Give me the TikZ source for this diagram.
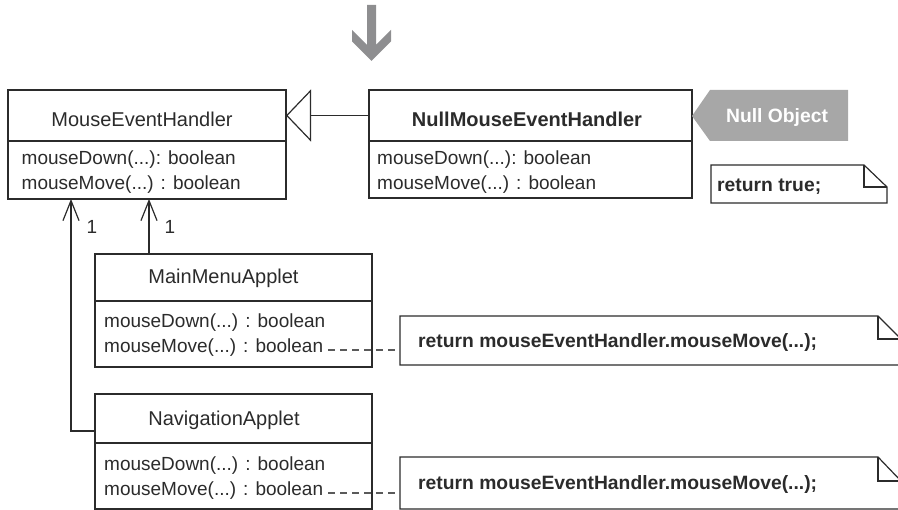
\documentclass[tikz,border=0pt]{standalone}
\usepackage{fontspec}
\setmainfont{Liberation Sans}
\usetikzlibrary{arrows.meta}
\definecolor{ln}{HTML}{2B2B2B}
\definecolor{arrowgray}{HTML}{8E8E90}
\definecolor{taggray}{HTML}{A7A7A7}
\definecolor{dashgray}{HTML}{5A5A5A}
\begin{document}
\begin{tikzpicture}[x=1pt,y=-1pt,
  box/.style={draw=ln, line width=1.2pt, inner sep=0pt, outer sep=0pt},
  ttl/.style={font=\fontsize{20}{24}\selectfont, inner sep=0pt, anchor=base, text=ln},
  bttl/.style={font=\fontsize{20}{24}\selectfont\bfseries, inner sep=0pt, anchor=base, text=ln},
  mth/.style={font=\fontsize{19}{23}\selectfont, inner sep=0pt, anchor=base west, text=ln},
  notetxt/.style={font=\fontsize{19.3}{23}\selectfont\bfseries, inner sep=0pt, anchor=base west, text=ln},
  lbl/.style={font=\fontsize{19}{23}\selectfont, inner sep=0pt, anchor=base, text=ln},
  tagtxt/.style={font=\fontsize{19.3}{23}\selectfont\bfseries, inner sep=0pt, anchor=base, text=white},
  noteframe/.style={inner sep=0pt, outer sep=0pt},
  noteline/.style={draw=ln, line width=1.2pt, line join=miter},
  assoc/.style={draw=ln, line width=1.2pt, -{Straight Barb[length=20pt,width=16pt,line width=1.2pt]}},
  gen/.style={draw=ln, line width=1.2pt, -{Triangle[open,length=25pt,width=52pt,line width=1.2pt]}},
  dashline/.style={draw=dashgray, line width=1.4pt, dash pattern=on 7pt off 5pt}]
\useasboundingbox (0,0) rectangle (898,510);
\clip (0,0) rectangle (898,510);

% down arrow
\fill[arrowgray] (367,5)--(376,5)--(376,45)--(391,30)--(391,41.5)--(371.5,61)--(352,41.5)--(352,30)--(367,45)--cycle;

% MouseEventHandler
\node[box, minimum width=278pt, minimum height=51pt] (mehT) at (147,115.5) {};
\node[box, minimum width=278pt, minimum height=58pt] (mehM) at (147,170) {};
\node[ttl] (mehTitle) at (142,126.5) {MouseEventHandler};
\node[mth] (mehM1) at (21.5,165) {mouseDown(...): boolean};
\node[mth] (mehM2) at (21.5,190) {mouseMove(...) : boolean};

% NullMouseEventHandler
\node[box, minimum width=323pt, minimum height=51pt] (nullT) at (530.5,115.5) {};
\node[box, minimum width=323pt, minimum height=57pt] (nullM) at (530.5,169.5) {};
\node[bttl] (nullTitle) at (527,126.5) {NullMouseEventHandler};
\node[mth] (nullM1) at (377,165) {mouseDown(...): boolean};
\node[mth] (nullM2) at (377,190) {mouseMove(...) : boolean};

% Null Object tag
\fill[taggray] (692,116)--(710,90)--(848,90)--(848,141)--(710,141)--cycle;
\node[tagtxt] (tag) at (777,123) {Null Object};

% note return true
\node[noteframe, minimum width=176pt, minimum height=38pt] (noteT) at (799,184) {};
\draw[noteline] (noteT.north west) -- ([xshift=-23pt]noteT.north east) -- ([yshift=-22pt]noteT.north east) -- (noteT.south east) -- (noteT.south west) -- cycle;
\draw[noteline] ([xshift=-23pt]noteT.north east) |- ([yshift=-22pt]noteT.north east);
\node[notetxt] (noteTtxt) at (717,192) {return true;};

% MainMenuApplet
\node[box, minimum width=277pt, minimum height=47pt] (mmaT) at (233.5,277.5) {};
\node[box, minimum width=277pt, minimum height=66pt] (mmaM) at (233.5,334) {};
\node[ttl] (mmaTitle) at (223.5,283.5) {MainMenuApplet};
\node[mth] (mmaM1) at (104,327.5) {mouseDown(...) : boolean};
\node[mth] (mmaM2) at (104,352.5) {mouseMove(...) : boolean};

% NavigationApplet
\node[box, minimum width=277pt, minimum height=49pt] (navT) at (233.5,418.5) {};
\node[box, minimum width=277pt, minimum height=66pt] (navM) at (233.5,476) {};
\node[ttl] (navTitle) at (224,425.5) {NavigationApplet};
\node[mth] (navM1) at (104,470.5) {mouseDown(...) : boolean};
\node[mth] (navM2) at (104,495.5) {mouseMove(...) : boolean};

% notes
\node[noteframe, minimum width=501pt, minimum height=49pt] (note1) at (650.5,340.5) {};
\draw[noteline] (note1.north west) -- ([xshift=-23pt]note1.north east) -- ([yshift=-23pt]note1.north east) -- (note1.south east) -- (note1.south west) -- cycle;
\draw[noteline] ([xshift=-23pt]note1.north east) |- ([yshift=-23pt]note1.north east);
\node[notetxt] (note1txt) at (418,348) {return mouseEventHandler.mouseMove(...);};

\node[noteframe, minimum width=501pt, minimum height=52pt] (note2) at (650.5,483) {};
\draw[noteline] (note2.north west) -- ([xshift=-23pt]note2.north east) -- ([yshift=-24pt]note2.north east) -- (note2.south east) -- (note2.south west) -- cycle;
\draw[noteline] ([xshift=-23pt]note2.north east) |- ([yshift=-24pt]note2.north east);
\node[notetxt] (note2txt) at (418,490) {return mouseEventHandler.mouseMove(...);};

% connectors
\draw[gen] (nullT.west) -- (mehT.east);
\coordinate (a1) at (149,0);
\coordinate (a2) at (71,0);
\draw[assoc] (a1 |- mmaT.north) -- (a1 |- mehM.south);
\draw[assoc] ([yshift=-12.5pt]navT.west) -| (a2 |- mehM.south);
\node[lbl] (one1) at (92,233.3) {1};
\node[lbl] (one2) at (170,233.3) {1};

\draw[dashline] ([xshift=5pt]mmaM2.mid east) -- (mmaM2.mid east -| note1.west);
\draw[dashline] ([xshift=5pt]navM2.mid east) -- (navM2.mid east -| note2.west);
\end{tikzpicture}
\end{document}
